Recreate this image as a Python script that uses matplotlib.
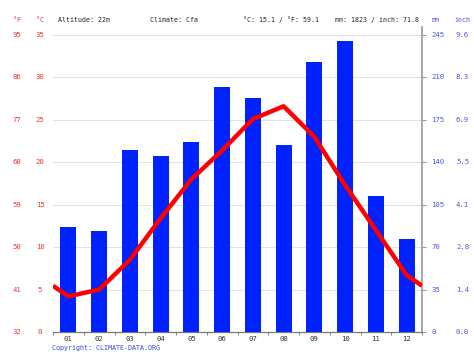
import numpy as np
import matplotlib.pyplot as plt
from matplotlib.transforms import blended_transform_factory

# --- data -------------------------------------------------------------
months      = ['01', '02', '03', '04', '05', '06', '07', '08', '09', '10', '11', '12']
precip_mm   = [87, 83, 150, 145, 157, 202, 193, 154, 223, 240, 112, 77]
temp_c      = [4.2, 5.0, 8.5, 13.4, 18.0, 21.4, 25.1, 26.6, 23.0, 17.3, 12.0, 6.7]

c_ticks     = [0, 5, 10, 15, 20, 25, 30, 35]
f_labels    = ['32', '41', '50', '59', '68', '77', '86', '95']
mm_ticks    = [0, 35, 70, 105, 140, 175, 210, 245]
inch_labels = ['0.0', '1.4', '2.8', '4.1', '5.5', '6.9', '8.3', '9.6']

header = [('Altitude: 22m', 58), ('Climate: Cfa', 150),
          ('°C: 15.1 / °F: 59.1', 243), ('mm: 1823 / inch: 71.8', 335)]

# --- style ------------------------------------------------------------
W, H = 474, 355
red = '#ee3333'
blue = '#4a55e0'
mono = 'DejaVu Sans Mono'
fs = 5.2
hfs = 4.8

fig = plt.figure(figsize=(W / 100, H / 100), dpi=100)
ax = fig.add_axes([53 / W, (H - 332) / H, (422 - 53) / W, (332 - 35) / H])
ax2 = ax.twinx()
ax.set_zorder(ax2.get_zorder() + 1)
ax.patch.set_visible(False)

x = np.arange(1, 13)

# precipitation bars (grid drawn underneath them)
ax2.bar(x, precip_mm, width=0.52, color='#0022ff', zorder=3)
ax2.set_ylim(0, 245)
ax2.set_yticks(mm_ticks)
ax2.set_yticklabels([])
ax2.tick_params(axis='y', length=3, color='#999999', direction='out')
ax2.grid(axis='y', color='#e2e2e2', lw=0.8)
ax2.set_axisbelow(True)

# temperature line, wrapped at the edges
edge = (temp_c[0] + temp_c[-1]) / 2
tx = np.concatenate([[0.5], x, [12.5]])
ty = np.concatenate([[edge], temp_c, [edge]])
ax.plot(tx, ty, color='#ff0000', lw=3.2, solid_capstyle='butt', zorder=5)
ax.set_ylim(0, 35)
ax.set_xlim(0.5, 12.5)
ax.set_yticks(c_ticks)
ax.set_yticklabels([])
ax.tick_params(axis='y', length=0)
ax.grid(False)

ax.set_xticks(x)
ax.set_xticklabels(months, fontsize=fs, family=mono, color='#333333')
ax.set_xticks(np.arange(0.5, 13, 1), minor=True)
ax.tick_params(axis='x', which='major', length=0, pad=3)
ax.tick_params(axis='x', which='minor', length=2, color='#777777')

for a in (ax, ax2):
    a.spines['top'].set_visible(False)
    a.spines['left'].set_visible(False)
    a.spines['right'].set_visible(False)
    a.spines['bottom'].set_color('#777777')
ax2.spines['right'].set_visible(True)
ax2.spines['right'].set_color('#999999')
ax2.spines['right'].set_linewidth(1.2)
ax2.spines['right'].set_bounds(0, 252)

# side labels
tl = blended_transform_factory(fig.transFigure, ax.transData)
for c, f in zip(c_ticks, f_labels):
    fig.text(17 / W, c, f, transform=tl, ha='center', va='center',
             fontsize=fs, family=mono, color=red)
    fig.text(40 / W, c, str(c), transform=tl, ha='center', va='center',
             fontsize=fs, family=mono, color=red)
tr = blended_transform_factory(fig.transFigure, ax2.transData)
for m, i in zip(mm_ticks, inch_labels):
    fig.text(431 / W, m, str(m), transform=tr, ha='left', va='center',
             fontsize=fs, family=mono, color=blue)
    fig.text(456 / W, m, i, transform=tr, ha='left', va='center',
             fontsize=fs, family=mono, color=blue)

# header
hy = (H - 20) / H
fig.text(17 / W, hy, '°F', ha='center', va='center', fontsize=hfs, family=mono, color=red)
fig.text(40 / W, hy, '°C', ha='center', va='center', fontsize=hfs, family=mono, color=red)
for txt, px in header:
    fig.text(px / W, hy, txt, ha='left', va='center', fontsize=hfs, family=mono, color='#222222')
fig.text(432 / W, hy, 'mm', ha='left', va='center', fontsize=hfs, family=mono, color=blue)
fig.text(454 / W, hy, 'inch', ha='left', va='center', fontsize=hfs, family=mono, color=blue)

fig.text(52 / W, (H - 348) / H, 'Copyright: CLIMATE-DATA.ORG', ha='left', va='center',
         fontsize=hfs, family=mono, color='#3344dd')

fig.savefig('out.png', dpi=100)
